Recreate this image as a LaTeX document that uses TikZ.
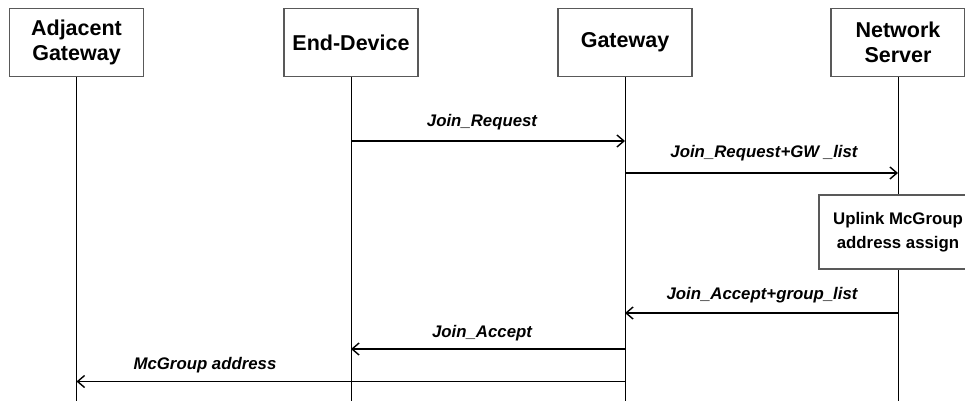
\documentclass[tikz,border=0pt]{standalone}
\usepackage{fontspec}
\setmainfont{Liberation Sans}
\usetikzlibrary{arrows.meta}
\begin{document}
\begin{tikzpicture}[x=1pt,y=-1pt,
  actor/.style={draw=black!65,line width=1.2pt,fill=white,minimum width=134pt,minimum height=68pt,
    align=center,font=\fontsize{21.5}{25}\selectfont\bfseries,inner sep=0pt},
  procbox/.style={draw=black!65,line width=1.2pt,fill=white,minimum width=158pt,minimum height=74pt,
    align=center,font=\fontsize{16.8}{24}\selectfont\bfseries,inner sep=0pt},
  life/.style={line width=1pt},
  msg/.style={line width=1.6pt,-{Straight Barb[length=7pt,width=12pt,line width=1.4pt]}},
  lbl/.style={font=\fontsize{16.8}{20}\selectfont\bfseries\itshape,inner sep=0pt}]
\useasboundingbox (0,0) rectangle (965,400);
\clip (0,0) rectangle (965,400);
\node[actor] (AG) at (76.5,42.5) {Adjacent\\Gateway};
\node[actor] (ED) at (351,42.5) {End-Device};
\node[actor] (GW) at (625,42.5) {Gateway};
\node[actor] (NS) at (898,42.5) {Network\\Server};
\coordinate (AGb) at (76.5,401);
\coordinate (EDb) at (351,401);
\coordinate (GWb) at (625,401);
\coordinate (NSb) at (898,401);
\draw[life] (AG.south) -- (AGb);
\draw[life] (ED.south) -- (EDb);
\draw[life] (GW.south) -- (GWb);
\draw[life] (NS.south) -- (NSb);
\node[procbox] (UP) at (898,232) {Uplink McGroup\\address assign};
% message end points on lifelines
\coordinate (m1a) at (351,141);   \coordinate (m1b) at (625,141);
\coordinate (m2a) at (625,173); \coordinate (m2b) at (898,173);
\coordinate (m3a) at (898,313); \coordinate (m3b) at (625,313);
\coordinate (m4a) at (625,349); \coordinate (m4b) at (351,349);
\coordinate (m5a) at (625,381.5); \coordinate (m5b) at (76.5,381.5);
\draw[msg] (m1a) -- (m1b);
\draw[msg] (m2a) -- (m2b);
\draw[msg] (m3a) -- (m3b);
\draw[msg] (m4a) -- (m4b);
\draw[msg] (m5a) -- (m5b);
\node[lbl] (l1) at (482,122) {Join\_Request};
\node[lbl] (l2) at (764,153) {Join\_Request+GW \_list};
\node[lbl] (l3) at (762,295) {Join\_Accept+group\_list};
\node[lbl] (l4) at (482,333) {Join\_Accept};
\node[lbl] (l5) at (205,365) {McGroup address};
\end{tikzpicture}
\end{document}
